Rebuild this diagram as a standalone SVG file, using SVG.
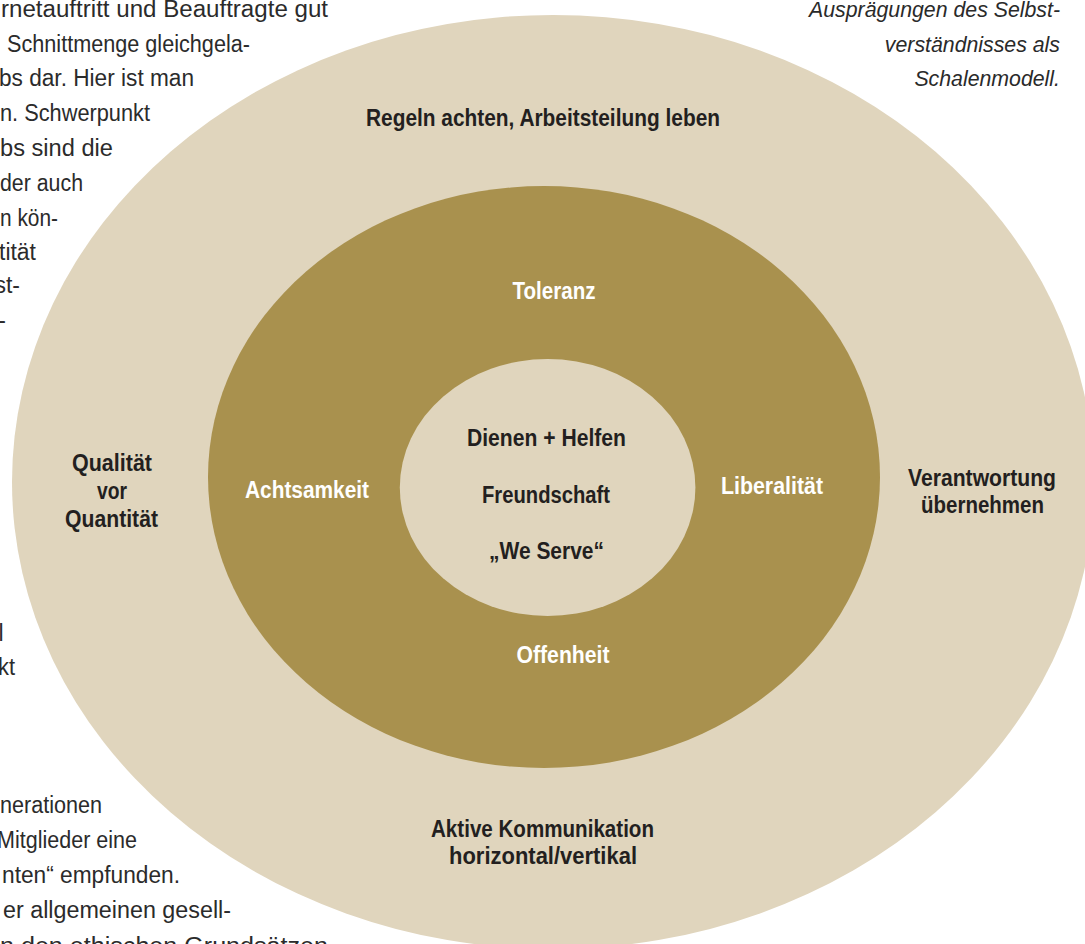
<svg xmlns="http://www.w3.org/2000/svg" width="1085" height="944" viewBox="0 0 1085 944">
  <style>
    .body { font-family: "Liberation Sans", Arial, sans-serif; font-size: 23px; fill: #2b2b2b; }
    .cap { font-family: "Liberation Sans", Arial, sans-serif; font-size: 21.3px; font-style: italic; fill: #2a2a2a; text-anchor: end; }
    .lbl { font-family: "Liberation Sans", Arial, sans-serif; font-size: 23.5px; font-weight: bold; text-anchor: middle; }
    .dark { fill: #231f20; }
    .light { fill: #ffffff; }
    .shell-outer { fill: #e0d5bd; }
    .shell-mid { fill: #a9914e; }
    .shell-core { fill: #e0d5bd; }
  </style>

  <rect width="1085" height="944" fill="#ffffff"/>

  <!-- running body text, wrapped around the shells -->
  <g id="body-text" class="body">
    <text x="1" y="17" textLength="327" lengthAdjust="spacingAndGlyphs">rnetauftritt und Beauftragte gut</text>
    <text x="7" y="52" textLength="243" lengthAdjust="spacingAndGlyphs">Schnittmenge gleichgela-</text>
    <text x="-1" y="86" textLength="195" lengthAdjust="spacingAndGlyphs">bs dar. Hier ist man</text>
    <text x="0" y="121" textLength="150" lengthAdjust="spacingAndGlyphs">n. Schwerpunkt</text>
    <text x="0" y="156" textLength="113" lengthAdjust="spacingAndGlyphs">bs sind die</text>
    <text x="0" y="191" textLength="83" lengthAdjust="spacingAndGlyphs">der auch</text>
    <text x="0" y="226" textLength="58" lengthAdjust="spacingAndGlyphs">n kön-</text>
    <text x="-1" y="260" textLength="37" lengthAdjust="spacingAndGlyphs">tität</text>
    <text x="20" y="293" text-anchor="end">st-</text>
    <text x="6" y="328" text-anchor="end">-</text>
    <text x="3.5" y="641" text-anchor="end">l</text>
    <text x="-2" y="675" textLength="17" lengthAdjust="spacingAndGlyphs">kt</text>
    <text x="0" y="813" textLength="102" lengthAdjust="spacingAndGlyphs">nerationen</text>
    <text x="-3" y="848" textLength="140" lengthAdjust="spacingAndGlyphs">Mitglieder eine</text>
    <text x="2" y="883" textLength="178" lengthAdjust="spacingAndGlyphs">nten“ empfunden.</text>
    <text x="3" y="918" textLength="228" lengthAdjust="spacingAndGlyphs">er allgemeinen gesell-</text>
    <text x="0" y="954" textLength="328" lengthAdjust="spacingAndGlyphs">n den ethischen Grundsätzen</text>
  </g>

  <!-- figure caption -->
  <g id="caption" class="cap">
    <text x="1060" y="17">Ausprägungen des Selbst-</text>
    <text x="1060" y="52">verständnisses als</text>
    <text x="1060" y="86">Schalenmodell.</text>
  </g>

  <!-- outer shell -->
  <g id="shell-outer">
    <ellipse class="shell-outer" cx="553" cy="482" rx="541" ry="467"/>
    <text class="lbl dark" x="543" y="126" textLength="354" lengthAdjust="spacingAndGlyphs">Regeln achten, Arbeitsteilung leben</text>
    <text class="lbl dark" x="112" y="471" textLength="80" lengthAdjust="spacingAndGlyphs">Qualität</text>
    <text class="lbl dark" x="112" y="499" textLength="30" lengthAdjust="spacingAndGlyphs">vor</text>
    <text class="lbl dark" x="111.5" y="527" textLength="93" lengthAdjust="spacingAndGlyphs">Quantität</text>
    <text class="lbl dark" x="982" y="486" textLength="148" lengthAdjust="spacingAndGlyphs">Verantwortung</text>
    <text class="lbl dark" x="982.5" y="513" textLength="123" lengthAdjust="spacingAndGlyphs">übernehmen</text>
    <text class="lbl dark" x="542.5" y="837" textLength="223" lengthAdjust="spacingAndGlyphs">Aktive Kommunikation</text>
    <text class="lbl dark" x="543" y="864" textLength="188" lengthAdjust="spacingAndGlyphs">horizontal/vertikal</text>
  </g>

  <!-- middle shell -->
  <g id="shell-mid">
    <ellipse class="shell-mid" cx="544" cy="477" rx="336" ry="291"/>
    <text class="lbl light" x="554" y="299" textLength="83" lengthAdjust="spacingAndGlyphs">Toleranz</text>
    <text class="lbl light" x="307" y="498" textLength="124" lengthAdjust="spacingAndGlyphs">Achtsamkeit</text>
    <text class="lbl light" x="772" y="494" textLength="102" lengthAdjust="spacingAndGlyphs">Liberalität</text>
    <text class="lbl light" x="563" y="663" textLength="93" lengthAdjust="spacingAndGlyphs">Offenheit</text>
  </g>

  <!-- core -->
  <g id="shell-core">
    <ellipse class="shell-core" cx="547.6" cy="487.5" rx="147.8" ry="128.5"/>
    <text class="lbl dark" x="546.5" y="446" textLength="159" lengthAdjust="spacingAndGlyphs">Dienen + Helfen</text>
    <text class="lbl dark" x="546" y="503" textLength="128" lengthAdjust="spacingAndGlyphs">Freundschaft</text>
    <text class="lbl dark" x="546.5" y="559" textLength="115" lengthAdjust="spacingAndGlyphs">„We Serve“</text>
  </g>

  <g id="connectors"/>
</svg>
